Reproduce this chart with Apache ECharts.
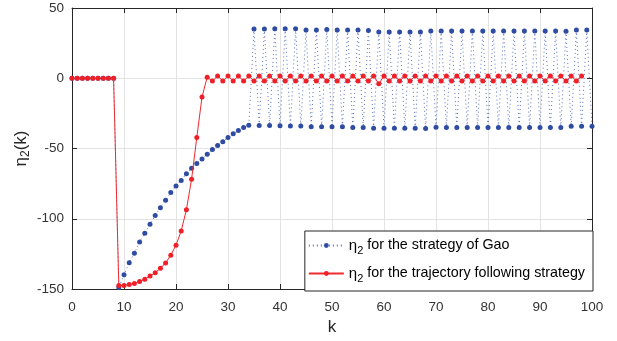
<!DOCTYPE html>
<html>
<head>
<meta charset="utf-8">
<script src="https://cdn.jsdelivr.net/npm/echarts@6/dist/echarts.min.js"></script>
<style>
html,body{margin:0;padding:0;background:#fff;}
#chart{width:617px;height:341px;}
</style>
</head>
<body>
<div id="chart"></div>
<script>
// Tick labels
const xTicks = [0, 10, 20, 30, 40, 50, 60, 70, 80, 90, 100];
const yTicks = [-150, -100, -50, 0, 50];

// eta_2 for the strategy of Gao, k = 0..100
const gaoValues = [
  0, 0, 0, 0, 0, 0, 0, 0, 0,
  -149, -139.8, -131.3, -124.5, -116.5, -110.4, -104, -97.6, -92.2, -86.8,
  -81.4, -76.7, -72.7, -68, -64, -60.7, -57.4, -54.1, -50.8, -47.8,
  -45.2, -42.1, -39.5, -37.2, -35.1, -33.4,
  35.0, -33.6, 35.0, -33.6, 35.3, -33.8, 35.3, -34.0, 35.3, -34.0,
  34.3, -34.5, 34.3, -34.5, 34.7, -34.5, 34.3, -34.5, 34.3, -35.0,
  34.3, -35.0, 33.9, -35.6, 33.0, -35.6, 33.0, -35.6, 33.0, -35.6,
  33.0, -35.6, 33.0, -35.8, 33.7, -34.9, 33.7, -35.0, 33.7, -35.0,
  33.7, -35.0, 33.7, -35.0, 33.7, -35.0, 33.7, -35.0, 33.7, -35.0,
  33.7, -35.0, 33.7, -35.0, 33.7, -35.0, 33.7, -35.0, 33.7, -35.0,
  33.5, -34.2, 34.4, -34.2, 34.4, -34.2
];

// eta_2 for the trajectory following strategy, k = 0..100
const trajValues = [
  0, 0, 0, 0, 0, 0, 0, 0, 0,
  -147.5, -147.5, -146.8, -146, -144.7, -143, -140.7, -138.4, -135.3, -131.5,
  -125.9, -118.8, -108.7, -93.6, -71.8, -42.1, -13.4, 0.8,
  -2.0, 1.6, -2.0, 1.6, -2.0, 1.6, -2.0, 1.6, -2.0, 1.6,
  -2.0, 1.6, -2.0, 1.6, -2.0, 1.6, -2.0, 1.6, -2.0, 1.6,
  -2.0, 1.6, -2.0, 1.6, -2.0, 1.6, -2.0, 1.6, -2.0, 1.6,
  -2.0, 1.6, -4.0, 1.6, -2.0, 1.6, -2.0, 1.6, -2.0, 1.6,
  -2.0, 1.6, -2.0, 1.6, -2.0, 1.6, -2.0, 1.6, -2.0, 1.6,
  -2.0, 1.6, -2.0, 1.6, -2.0, 1.6, -2.0, 1.6, -2.0, 1.6,
  -2.0, 1.6, -2.0, 1.6, -2.0, 1.6, -2.0, 1.6, -2.0, 1.6,
  -2.0, 1.6
];

const seriesNames = ['gao', 'traj'];
const legendLabels = {
  gao: '{e|η}{s|2}{t| for the strategy of Gao}',
  traj: '{e|η}{s|2}{t| for the trajectory following strategy}'
};

const FONT = '"Liberation Sans", Arial, Helvetica, sans-serif';
const AX = '#262626';

const chart = echarts.init(document.getElementById('chart'), null, {renderer: 'canvas'});

function pairs(vals) { return vals.map((v, i) => [i, v]); }

const baseX = {
  type: 'value', min: xTicks[0], max: xTicks[xTicks.length - 1], interval: 10
};
const baseY = {
  type: 'value', min: yTicks[0], max: yTicks[yTicks.length - 1], interval: 50
};

chart.setOption({
  animation: false,
  backgroundColor: '#fff',
  grid: {left: 72, right: 25, top: 8, bottom: 51, containLabel: false},
  xAxis: [
    Object.assign({}, baseX, {
      position: 'bottom',
      name: 'k', nameLocation: 'middle', nameGap: 30, nameMoveOverlap: false,
      nameTextStyle: {fontFamily: FONT, fontSize: 17, color: AX},
      axisLine: {show: true, onZero: false, lineStyle: {color: AX, width: 1}},
      axisTick: {show: true, inside: true, length: 5, lineStyle: {color: AX}},
      axisLabel: {fontFamily: FONT, fontSize: 13.5, color: '#333', margin: 11},
      splitLine: {show: true, lineStyle: {color: '#e3e3e3', width: 1}}
    }),
    Object.assign({}, baseX, {
      position: 'top',
      axisLine: {show: true, onZero: false, lineStyle: {color: AX, width: 1}},
      axisTick: {show: true, inside: true, length: 5, lineStyle: {color: AX}},
      axisLabel: {show: false},
      splitLine: {show: false}
    })
  ],
  yAxis: [
    Object.assign({}, baseY, {
      position: 'left',
      name: '{e|η}{s|2}{t|(k)}', nameLocation: 'middle', nameGap: 40, nameRotate: 90,
      nameMoveOverlap: false,
      nameTextStyle: {
        fontFamily: FONT, color: AX,
        rich: {
          e: {fontFamily: FONT, fontSize: 17, color: AX},
          s: {fontFamily: FONT, fontSize: 12, color: AX, padding: [10, 0, 0, 0]},
          t: {fontFamily: FONT, fontSize: 17, color: AX}
        }
      },
      axisLine: {show: true, onZero: false, lineStyle: {color: AX, width: 1}},
      axisTick: {show: true, inside: true, length: 5, lineStyle: {color: AX}},
      axisLabel: {fontFamily: FONT, fontSize: 13.5, color: '#333', margin: 8},
      splitLine: {show: true, lineStyle: {color: '#e3e3e3', width: 1}}
    }),
    Object.assign({}, baseY, {
      position: 'right',
      axisLine: {show: true, onZero: false, lineStyle: {color: AX, width: 1}},
      axisTick: {show: true, inside: true, length: 5, lineStyle: {color: AX}},
      axisLabel: {show: false},
      splitLine: {show: false}
    })
  ],
  legend: {
    orient: 'vertical',
    right: 24, bottom: 50,
    itemWidth: 35, itemHeight: 6, itemGap: 10,
    padding: [7, 8, 7, 3],
    align: 'left',
    backgroundColor: '#fff',
    borderColor: AX, borderWidth: 1, borderRadius: 0,
    data: seriesNames,
    formatter: name => legendLabels[name],
    textStyle: {
      fontFamily: FONT, fontSize: 14, color: '#000',
      rich: {
        e: {fontFamily: FONT, fontSize: 15, color: '#000'},
        s: {fontFamily: FONT, fontSize: 11, color: '#000', padding: [10, 0, 0, 0]},
        t: {fontFamily: FONT, fontSize: 14.3, color: '#000'}
      }
    }
  },
  series: [
    {
      name: 'gao', type: 'line', xAxisIndex: 0, yAxisIndex: 0,
      data: pairs(gaoValues),
      symbol: 'circle', symbolSize: 5, showSymbol: true,
      lineStyle: {color: '#5a72c0', width: 1, type: [1, 3]},
      itemStyle: {color: '#2f4ca3'},
      z: 2
    },
    {
      name: 'traj', type: 'line', xAxisIndex: 0, yAxisIndex: 0,
      data: pairs(trajValues),
      symbol: 'circle', symbolSize: 5, showSymbol: true,
      lineStyle: {color: '#ee2a2f', width: 1, type: 'solid'},
      itemStyle: {color: '#f02028'},
      z: 3
    }
  ]
});
</script>
</body>
</html>
